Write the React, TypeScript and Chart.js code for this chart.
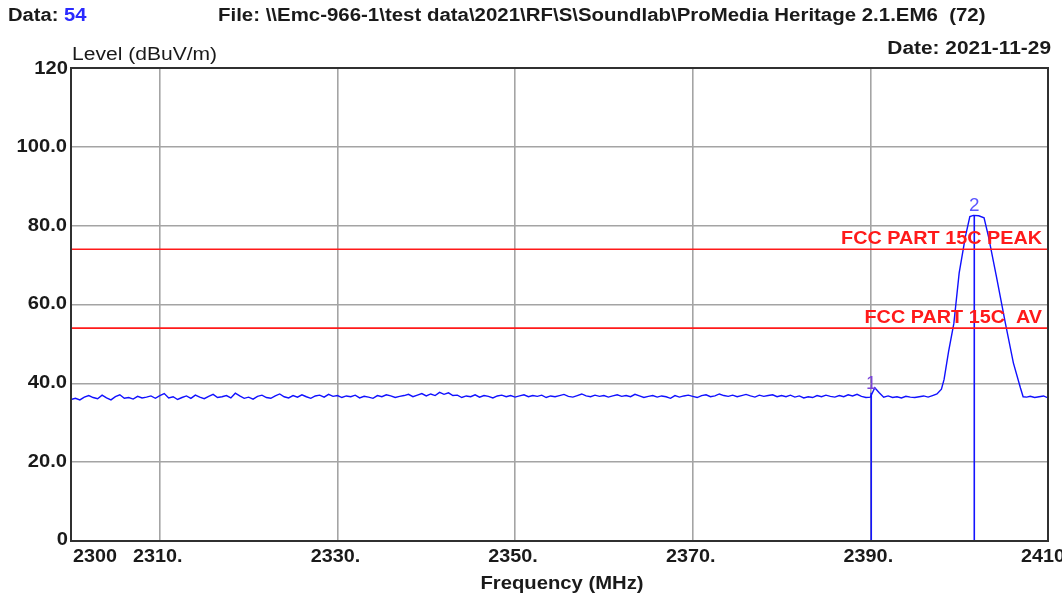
import React, { useEffect, useRef } from "react";
import { Chart, registerables } from "chart.js";

Chart.register(...registerables);

const X_MIN = 2300;
const X_MAX = 2410;
const Y_MIN = 0;
const Y_MAX = 120;

const xTickValues = [2300, 2310, 2330, 2350, 2370, 2390, 2410];
const xTickLabels = ["2300", "2310.", "2330.", "2350.", "2370.", "2390.", "2410"];
const yTickValues = [0, 20, 40, 60, 80, 100, 120];
const yTickLabels = ["0", "20.0", "40.0", "60.0", "80.0", "100.0", "120"];

// noise floor readings, every 0.5 MHz from 2300 to 2397.5 MHz
const noiseStart = 2300;
const noiseStep = 0.5;
const noiseLevels = [
  35.9, 36.2, 35.8, 36.5, 36.9, 36.4, 36.1, 37.0, 36.3, 35.8, 36.6, 37.1, 36.2, 36.4, 36.0, 36.7, 36.3, 36.5, 36.8, 36.2,
  36.9, 37.4, 36.3, 36.6, 35.9, 36.4, 36.8, 36.2, 37.0, 36.5, 36.1, 36.7, 37.2, 36.4, 36.6, 36.9, 36.3, 37.5, 36.8, 36.2,
  36.5, 36.0, 36.7, 37.0, 36.4, 36.2, 36.8, 37.3, 36.6, 36.3, 36.9, 36.5, 37.1, 36.6, 36.2, 36.8, 37.0, 36.5, 37.2, 36.7,
  36.9, 36.4, 36.8, 36.6, 37.0, 36.3, 36.7, 36.5, 36.2, 36.9, 36.6, 37.1, 36.8, 36.4, 36.7, 36.9, 37.2, 36.6, 37.0, 37.4,
  36.8, 37.3, 36.9, 37.7, 37.2, 37.6, 36.9, 37.0, 36.4, 36.8, 36.6, 37.1, 36.5, 36.9, 36.7, 36.3, 36.8, 37.0, 36.6, 36.9,
  36.5, 36.8, 37.1, 36.6, 36.9, 36.7, 37.0, 36.4, 36.8, 36.6, 36.9, 37.2, 36.7, 36.5, 36.9, 37.3, 36.8, 36.6, 37.0, 36.7,
  36.9, 36.5, 36.8, 37.1, 36.7, 36.9, 36.6, 37.2, 36.8, 36.4, 36.7, 36.9, 36.5, 36.8, 36.6, 36.2, 36.9, 36.5, 36.8, 37.0,
  36.7, 36.4, 36.9, 37.1, 36.6, 36.8, 37.3, 36.9, 36.7, 37.0, 36.6, 36.9, 37.2, 36.8, 36.5, 37.0, 36.7, 36.9, 37.1, 36.6,
  36.9, 36.6, 37.0, 36.5, 36.8, 36.3, 36.6, 36.4, 36.9, 36.6, 37.0, 36.7, 36.5, 36.9, 36.6, 37.1, 36.8, 37.2, 36.7, 36.4,
  36.5, 38.9, 37.6, 36.5, 36.8, 36.4, 36.6, 36.3, 36.7, 36.5, 36.4, 36.6, 36.8, 36.5, 36.9, 37.3,
];

// emission peak and the tail up to 2410 MHz
const peakFreqs = [2398.0, 2398.3, 2398.8, 2399.4, 2400.0, 2400.7, 2401.2, 2401.6, 2402.2, 2402.8, 2403.3, 2404.2, 2405.2, 2406.1, 2406.9, 2407.2, 2407.6, 2408.0, 2408.5, 2409.0, 2409.5, 2410.0];
const peakLevels = [38.5, 41.0, 48.0, 55.2, 68.0, 77.2, 82.3, 82.6, 82.5, 82.0, 77.2, 67.0, 55.3, 45.2, 38.8, 36.6, 36.5, 36.7, 36.4, 36.6, 36.8, 36.3];

const limitNames = ["FCC PART 15C PEAK", "FCC PART 15C  AV"];
const limitLevels = [74, 54];

const markerLabels = ["1", "2"];
const markerFreqs = [2390.1, 2401.7];
const markerLevels = [37.6, 82.7];
const markerLabelColors = ["#7a44d8", "#5a55ff"];

const headerData = "54";
const headerFile = "File: \\\\Emc-966-1\\test data\\2021\\RF\\S\\Soundlab\\ProMedia Heritage 2.1.EM6  (72)";
const headerDate = "Date: 2021-11-29";
const yTitle = "Level (dBuV/m)";
const xTitle = "Frequency (MHz)";

const FONT = "'Liberation Sans', Arial, sans-serif";

// draw text stretched horizontally by sx, aligned left/center/right at x
function drawText(ctx: CanvasRenderingContext2D, text: string, x: number, y: number, align: "left" | "center" | "right", sx: number) {
  const w = ctx.measureText(text).width * sx;
  let left = x;
  if (align === "center") left = x - w / 2;
  else if (align === "right") left = x - w;
  ctx.save();
  ctx.textAlign = "left";
  ctx.translate(left, y);
  ctx.scale(sx, 1);
  ctx.fillText(text, 0, 0);
  ctx.restore();
  return w;
}

export default function App() {
  const ref = useRef<HTMLCanvasElement | null>(null);

  useEffect(() => {
    const canvas = ref.current;
    if (!canvas) return;

    const tracePts = [
      ...noiseLevels.map((v, i) => ({ x: noiseStart + i * noiseStep, y: v })),
      ...peakLevels.map((v, i) => ({ x: peakFreqs[i], y: v })),
    ];

    const limitSets = limitLevels.map((lv) => ({
      data: [
        { x: X_MIN, y: lv },
        { x: X_MAX, y: lv },
      ],
      borderColor: "#ff1a1a",
      borderWidth: 1.6,
      pointRadius: 0,
      showLine: true,
    }));

    const markerSets = markerFreqs.map((f, i) => ({
      data: [
        { x: f, y: Y_MIN },
        { x: f, y: markerLevels[i] },
      ],
      borderColor: "#1414ff",
      borderWidth: 1.6,
      pointRadius: 0,
      showLine: true,
    }));

    const textPlugin = {
      id: "texts",
      afterDraw(chart: any) {
        const ctx = chart.ctx as CanvasRenderingContext2D;
        const xs = chart.scales.x;
        const ys = chart.scales.y;
        const ca = chart.chartArea;
        ctx.save();

        // frame
        ctx.strokeStyle = "#303030";
        ctx.lineWidth = 2;
        ctx.strokeRect(ca.left, ca.top, ca.right - ca.left, ca.bottom - ca.top);

        // limit labels
        ctx.font = `bold 18px ${FONT}`;
        ctx.fillStyle = "#ff1a1a";
        ctx.textBaseline = "alphabetic";
        limitLevels.forEach((lv, i) => {
          drawText(ctx, limitNames[i], ca.right - 6, ys.getPixelForValue(lv) - 5, "right", 1.1);
        });

        // marker labels
        ctx.font = `18px ${FONT}`;
        ctx.textBaseline = "alphabetic";
        markerFreqs.forEach((f, i) => {
          ctx.fillStyle = markerLabelColors[i];
          drawText(ctx, markerLabels[i], xs.getPixelForValue(f), ys.getPixelForValue(markerLevels[i]) - 4, "center", 1.05);
        });

        // y tick labels
        ctx.fillStyle = "#1a1a1a";
        ctx.font = `bold 18px ${FONT}`;
        yTickValues.forEach((v, i) => {
          const y = ys.getPixelForValue(v);
          if (i === yTickValues.length - 1) {
            ctx.textBaseline = "alphabetic";
            drawText(ctx, yTickLabels[i], ca.left - 3, y + 6, "right", 1.12);
          } else if (i === 0) {
            ctx.textBaseline = "alphabetic";
            drawText(ctx, yTickLabels[i], ca.left - 3, y + 4, "right", 1.12);
          } else {
            ctx.textBaseline = "middle";
            drawText(ctx, yTickLabels[i], ca.left - 4, y, "right", 1.12);
          }
        });

        // x tick labels
        ctx.textBaseline = "top";
        xTickValues.forEach((v, i) => {
          const x = xs.getPixelForValue(v);
          if (i === 0) {
            drawText(ctx, xTickLabels[i], x + 2, ca.bottom + 7, "left", 1.1);
          } else if (i === xTickValues.length - 1) {
            drawText(ctx, xTickLabels[i], x - 27, ca.bottom + 7, "left", 1.1);
          } else {
            drawText(ctx, xTickLabels[i], x - 2, ca.bottom + 7, "center", 1.1);
          }
        });

        // axis titles
        ctx.textBaseline = "alphabetic";
        ctx.font = `bold 18px ${FONT}`;
        drawText(ctx, xTitle, 562, 589, "center", 1.125);
        ctx.font = `18px ${FONT}`;
        drawText(ctx, yTitle, 72, 60, "left", 1.17);

        // header
        ctx.font = `bold 18px ${FONT}`;
        ctx.fillStyle = "#1a1a1a";
        const w = drawText(ctx, "Data: ", 8, 21, "left", 1.12);
        ctx.fillStyle = "#2a2aff";
        drawText(ctx, headerData, 8 + w, 21, "left", 1.12);
        ctx.fillStyle = "#1a1a1a";
        drawText(ctx, headerFile, 218, 21, "left", 1.135);
        drawText(ctx, headerDate, 1051, 54, "right", 1.16);

        ctx.restore();
      },
    };

    const chart = new Chart(canvas, {
      type: "scatter",
      data: {
        datasets: [
          ...limitSets,
          {
            data: tracePts,
            borderColor: "#1010ff",
            borderWidth: 1.4,
            pointRadius: 0,
            showLine: true,
          },
          ...markerSets,
        ] as any,
      },
      options: {
        animation: false,
        responsive: false,
        maintainAspectRatio: false,
        layout: { padding: { left: 71, right: 14, top: 68, bottom: 56 } },
        plugins: { legend: { display: false }, tooltip: { enabled: false } },
        scales: {
          x: {
            type: "linear",
            min: X_MIN,
            max: X_MAX,
            afterBuildTicks: (s: any) => {
              s.ticks = xTickValues.map((v) => ({ value: v }));
            },
            ticks: { display: false },
            grid: { color: "#a4a4a4", lineWidth: 1.6, drawTicks: false },
            border: { display: false },
          },
          y: {
            type: "linear",
            min: Y_MIN,
            max: Y_MAX,
            afterBuildTicks: (s: any) => {
              s.ticks = yTickValues.map((v) => ({ value: v }));
            },
            ticks: { display: false },
            grid: { color: "#a4a4a4", lineWidth: 1.6, drawTicks: false },
            border: { display: false },
          },
        },
      } as any,
      plugins: [textPlugin],
    });

    return () => chart.destroy();
  }, []);

  return (
    <div style={{ position: "absolute", left: 0, top: 0, width: 1062, height: 597, background: "#fff" }}>
      <canvas ref={ref} width={1062} height={597} style={{ display: "block", width: 1062, height: 597 }} />
    </div>
  );
}
